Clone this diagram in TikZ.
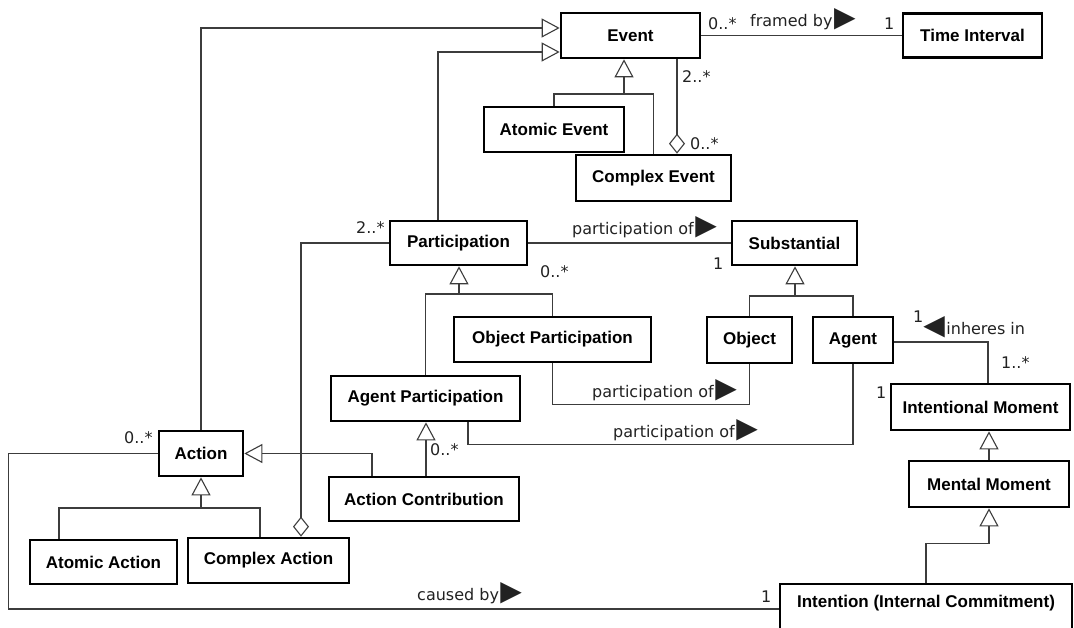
\documentclass[tikz,border=0pt]{standalone}
\usepackage{fontspec}
\setmainfont{Liberation Sans}
\newfontfamily\lblfamily{DejaVu Sans}
\usetikzlibrary{arrows.meta}
\definecolor{linegray}{HTML}{3C3C3C}
\definecolor{textgray}{HTML}{222222}
% reading-direction markers for association names
\newcommand\dirR{{\kern1.5pt\fontsize{28}{28}\selectfont ▶}}
\newcommand\dirL{{\fontsize{28}{28}\selectfont ◀\kern1.5pt}}
\tikzset{
  cls/.style={draw=black, line width=2.7pt, fill=white, inner sep=0pt,
    font=\fontsize{17}{20}\selectfont\bfseries},
  conn/.style={draw=linegray, line width=1.3pt},
  gen/.style={conn, -{Triangle[open, length=18pt, width=19pt, line width=1.1pt]}},
  aggr/.style={conn, -{Diamond[open, length=20pt, width=16pt, line width=1.1pt]}},
  mult/.style={anchor=base west, inner sep=0pt, text=textgray,
    font=\lblfamily\fontsize{16}{18}\selectfont},
}
\begin{document}
\begin{tikzpicture}[x=1pt, y=-1pt]
\useasboundingbox (0,0) rectangle (1074,628);
\clip (0,0) rectangle (1074,628);
\fill[white] (0,0) rectangle (1074,628);

% classes
\node[cls, minimum width=139pt, minimum height=45pt] (ev) at (630.5,35.5) {Event};
\node[cls, minimum width=139pt, minimum height=44pt] (ti) at (972.5,35.5) {Time Interval};
\node[cls, minimum width=140pt, minimum height=45pt] (ae) at (554,129.5) {Atomic Event};
\node[cls, minimum width=155pt, minimum height=46pt] (ce) at (653.5,178) {Complex Event};
\node[cls, minimum width=137pt, minimum height=44pt] (part) at (458.5,243) {Participation};
\node[cls, minimum width=125pt, minimum height=44pt] (subs) at (794.5,243) {Substantial};
\node[cls, minimum width=197pt, minimum height=45pt] (op) at (552.5,339.5) {Object Participation};
\node[cls, minimum width=85pt, minimum height=46pt] (obj) at (749.5,340) {Object};
\node[cls, minimum width=80pt, minimum height=46pt] (agent) at (853,340) {Agent};
\node[cls, minimum width=189pt, minimum height=45pt] (ap) at (425.5,398.5) {Agent Participation};
\node[cls, minimum width=179pt, minimum height=46pt] (im) at (980.5,407) {Intentional Moment};
\node[cls, minimum width=160pt, minimum height=46pt] (mm) at (989,484) {Mental Moment};
\node[cls, minimum width=84pt, minimum height=45pt] (act) at (201,453.5) {Action};
\node[cls, minimum width=190pt, minimum height=44pt] (ac) at (424,499) {Action Contribution};
\node[cls, minimum width=147pt, minimum height=44pt] (aa) at (103.5,562) {Atomic Action};
\node[cls, minimum width=161pt, minimum height=45pt] (ca) at (268.5,560.5) {Complex Action};
\node[cls, minimum width=292pt, minimum height=50pt, text depth=15pt] (int) at (926,609) {Intention (Internal Commitment)};

% junction points of shared generalization trees
\coordinate (evj) at (624,94);
\coordinate (pj) at (459,294);
\coordinate (sj) at (795,296);
\coordinate (aj) at (201,508);
\coordinate (evagg) at ([xshift=46.5pt]ev.south);
\coordinate (apk) at ([xshift=42.5pt]ap.south);
\coordinate (imk) at ([xshift=7.5pt]im.north);
\coordinate (acl) at ([xshift=-52pt]ac.north);
\coordinate (acm) at ([xshift=2pt]ac.north);
\coordinate (cak) at ([xshift=32.5pt]ca.north);
\coordinate (aak) at ([xshift=-44.5pt]aa.north);
\coordinate (cal) at ([xshift=-8.5pt]ca.north);
\coordinate (partk) at ([xshift=-20.5pt]part.north);

% generalizations
\draw[gen] (act.north) |- ([yshift=7.5pt]ev.west);
\draw[gen] (partk) |- ([yshift=-16.5pt]ev.west);
\draw[gen] (ae.north) |- (evj) -- (evj |- ev.south);
\draw[conn] (ce.north) |- (evj);
\draw[gen] (op.north) |- (pj) -- (pj |- part.south);
\draw[conn] (ap.north) |- (pj);
\draw[gen] (obj.north) |- (sj) -- (sj |- subs.south);
\draw[conn] (agent.north) |- (sj);
\draw[gen] (mm.north) -- (mm.north |- im.south);
\draw[gen] (int.north) -- ++(0,-39) -| (mm.south);
\draw[gen] (acl) |- (act.east);
\draw[gen] (acm) -- (acm |- ap.south);
\draw[gen] (aak) |- (aj) -- (aj |- act.south);
\draw[conn] (cal) |- (aj);

% aggregations
\draw[aggr] (evagg) -- (evagg |- ce.north);
\draw[aggr] (part.west) -| (cak);

% associations
\draw[conn] (ev.east) -- (ti.west);
\draw[conn] (part.east) -- (subs.west);
\draw[conn] (op.south) -- ++(0,41) -| (obj.south);
\draw[conn] (apk) -- ++(0,22) -| (agent.south);
\draw[conn] ([yshift=-2pt]agent.east) -| (imk);
\draw[conn] (act.west) -- ++(-149,0) |- (int.west);

% association names and multiplicities
\node[mult] (m1) at (708,30) {0..*};
\node[mult] (n1) at (750,27) {framed by\dirR};
\node[mult] (m2) at (884,30) {1};
\node[mult] (m3) at (682,83) {2..*};
\node[mult] (m4) at (690,150) {0..*};
\node[mult] (m5) at (356,234) {2..*};
\node[mult] (n2) at (572,235) {participation of\dirR};
\node[mult] (m6) at (713,270) {1};
\node[mult] (m7) at (540,278) {0..*};
\node[mult] (n3) at (592,397) {participation of\dirR};
\node[mult] (n4) at (613,437) {participation of\dirR};
\node[mult] (n5) at (913,335) {\raisebox{12pt}{1}\dirL inheres in};
\node[mult] (m8) at (1001,368) {1..*};
\node[mult] (m9) at (876,398) {1};
\node[mult] (m10) at (124,443) {0..*};
\node[mult] (m11) at (430,455) {0..*};
\node[mult] (n6) at (417,600) {caused by\dirR};
\node[mult] (m12) at (761,602) {1};
\end{tikzpicture}
\end{document}
